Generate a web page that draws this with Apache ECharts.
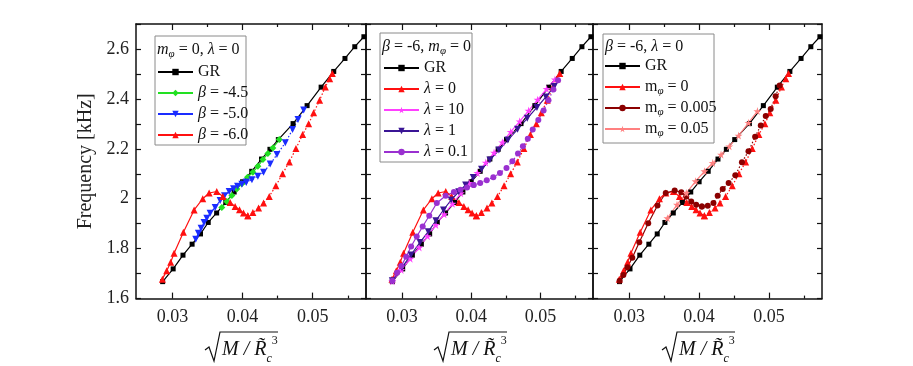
<!DOCTYPE html>
<html>
<head>
<meta charset="utf-8">
<title>Frequency vs compactness</title>
<script src="https://cdn.jsdelivr.net/npm/echarts@6/dist/echarts.min.js"></script>
<style>
  html, body { margin: 0; background: #fff; }
  #chart { width: 913px; height: 366px; }
</style>
</head>
<body>
<div id="chart"></div>
<script>
// ---- data: [sqrt(M/Rc^3), frequency kHz] ----
var grData = [[0.0286,1.668],[0.0301,1.719],[0.0315,1.774],[0.0328,1.818],[0.0340,1.859],[0.0351,1.905],[0.0363,1.943],[0.0376,1.985],[0.0388,2.027],[0.0400,2.068],[0.0413,2.110],[0.0427,2.159],[0.0439,2.198],[0.0451,2.237],[0.0472,2.301],[0.0492,2.373],[0.0512,2.447],[0.0530,2.510],[0.0546,2.562],[0.0560,2.609],[0.0573,2.649]];

// beta = -6 (same as lambda = 0, m_phi = 0): stable part and the dotted part after the minimum
var b60Solid = [[0.02856,1.678],[0.02918,1.712],[0.02975,1.746],[0.03023,1.782],[0.03156,1.866],[0.03309,1.955],[0.03432,2.000],[0.03523,2.023],[0.03632,2.029],[0.03718,2.009],[0.03823,1.985],[0.03894,1.969],[0.03956,1.956],[0.04013,1.943],[0.04075,1.932]];
var b60Dotted = [[0.04075,1.932],[0.04147,1.945],[0.04228,1.963],[0.04299,1.983],[0.04380,2.009],[0.04475,2.052],[0.04570,2.100],[0.04666,2.147],[0.04761,2.201],[0.04856,2.257],[0.04942,2.300],[0.05013,2.344],[0.05099,2.395],[0.05180,2.448],[0.05242,2.481],[0.05280,2.502]];

var b45Data = [[0.03704,1.965],[0.03775,1.989],[0.03847,2.013],[0.03918,2.039],[0.03990,2.060],[0.04070,2.086],[0.04147,2.106],[0.04218,2.130],[0.04290,2.157],[0.04361,2.181],[0.04432,2.203],[0.04523,2.237]];

var b50Solid = [[0.03332,1.838],[0.03370,1.862],[0.03409,1.882],[0.03451,1.905],[0.03490,1.922],[0.03537,1.942],[0.03609,1.965],[0.03680,1.993],[0.03742,2.012],[0.03809,2.029],[0.03871,2.040],[0.03928,2.050],[0.03990,2.058],[0.04052,2.066]];
var b50Dotted = [[0.04052,2.066],[0.04133,2.076],[0.04218,2.090],[0.04299,2.106],[0.04394,2.139],[0.04490,2.177],[0.04609,2.224],[0.04713,2.277],[0.04790,2.317],[0.04871,2.355]];

var l10Data = [[0.0286,1.670],[0.0299,1.715],[0.0312,1.760],[0.0325,1.805],[0.0337,1.850],[0.0349,1.895],[0.0361,1.938],[0.0373,1.980],[0.0385,2.022],[0.0397,2.063],[0.0409,2.103],[0.0421,2.145],[0.0433,2.185],[0.0445,2.226],[0.0457,2.268],[0.0470,2.310],[0.0483,2.353],[0.0496,2.397],[0.0509,2.440],[0.0521,2.478]];
var l1Data = [[0.0286,1.672],[0.0300,1.725],[0.0313,1.775],[0.0326,1.825],[0.0338,1.868],[0.0349,1.912],[0.0360,1.955],[0.0371,1.995],[0.0382,2.028],[0.0392,2.055],[0.0403,2.085],[0.0415,2.118],[0.0427,2.155],[0.0440,2.195],[0.0453,2.235],[0.0467,2.278],[0.0481,2.322],[0.0495,2.366],[0.0508,2.408],[0.0520,2.450]];
var l01Solid = [[0.02862,1.672],[0.02928,1.704],[0.02990,1.731],[0.03061,1.768],[0.03132,1.809],[0.03213,1.849],[0.03299,1.889],[0.03394,1.932],[0.03503,1.983],[0.03631,2.012],[0.03750,2.027],[0.03845,2.036],[0.03940,2.045],[0.04035,2.055]];
var l01Dotted = [[0.04035,2.055],[0.04130,2.063],[0.04225,2.074],[0.04320,2.086],[0.04415,2.103],[0.04510,2.123],[0.04595,2.150],[0.04676,2.181],[0.04747,2.210],[0.04818,2.240],[0.04889,2.277],[0.04970,2.315],[0.05046,2.353],[0.05117,2.395],[0.05188,2.438],[0.05255,2.475]];

var m005Solid = [[0.02862,1.672],[0.02915,1.695],[0.02972,1.726],[0.03043,1.764],[0.03143,1.826],[0.03271,1.902],[0.03404,1.973],[0.03522,2.023],[0.03650,2.033],[0.03745,2.026],[0.03816,2.009],[0.03887,1.989],[0.03958,1.976],[0.04039,1.969]];
var m005Dotted = [[0.04039,1.969],[0.04124,1.972],[0.04205,1.983],[0.04266,2.012],[0.04338,2.039],[0.04423,2.063],[0.04518,2.094],[0.04613,2.146],[0.04707,2.190],[0.04802,2.248],[0.04883,2.293],[0.04954,2.331],[0.05025,2.360],[0.05096,2.411],[0.05153,2.454]];
var m05Data = [[0.03546,1.922],[0.03683,1.976],[0.03816,2.023],[0.03949,2.070],[0.04077,2.110],[0.04195,2.143],[0.04314,2.177],[0.04432,2.210],[0.04565,2.253],[0.04707,2.304],[0.04835,2.351]];

var xMinor = [0.035, 0.045, 0.055];
var xLabels = [0.03, 0.04, 0.05];
var yTicks = [1.6, 1.7, 1.8, 1.9, 2.0, 2.1, 2.2, 2.3, 2.4, 2.5, 2.6, 2.7];
var yLabels = [1.6, 1.8, 2.0, 2.2, 2.4, 2.6];

var FONT = 'Liberation Serif, Times New Roman, serif';
var STAR = 'path://M50,0L61,35L98,35L68,57L79,91L50,70L21,91L32,57L2,35L39,35Z';
var DOWN = 'path://M0,0L10,0L5,9Z';

var panels = [
  {left: 136, width: 230},
  {left: 366, width: 227},
  {left: 593, width: 229}
];

var chart = echarts.init(document.getElementById('chart'));

var grids = [], xAxes = [], yAxes = [];
panels.forEach(function (p, g) {
  grids.push({left: p.left, top: 24, width: p.width, height: 274.6});

  // major ticks (bottom one carries the labels), then minor ticks
  ['bottom', 'top'].forEach(function (pos) {
    xAxes.push({
      type: 'value', gridIndex: g, min: 0.0248, max: 0.0576, position: pos,
      splitLine: {show: false},
      axisLine: {onZero: false, lineStyle: {color: '#111', width: 1.5}},
      axisTick: {inside: true, length: 6, customValues: xLabels, lineStyle: {color: '#111', width: 1.2}},
      axisLabel: {
        show: pos === 'bottom', customValues: xLabels, margin: 10,
        fontFamily: FONT, fontSize: 18, color: '#222',
        formatter: function (v) { return v.toFixed(2); }
      }
    });
  });
  ['bottom', 'top'].forEach(function (pos) {
    xAxes.push({
      type: 'value', gridIndex: g, min: 0.0248, max: 0.0576, position: pos,
      splitLine: {show: false}, axisLine: {show: false, onZero: false}, axisLabel: {show: false},
      axisTick: {inside: true, length: 3, customValues: xMinor, lineStyle: {color: '#111', width: 1.2}}
    });
  });

  ['left', 'right'].forEach(function (pos) {
    var ax = {
      type: 'value', gridIndex: g, min: 1.6, max: 2.7, position: pos,
      splitLine: {show: false},
      axisLine: {onZero: false, lineStyle: {color: '#111', width: 1.5}},
      axisTick: {inside: true, length: 5, customValues: yTicks, lineStyle: {color: '#111', width: 1.2}},
      axisLabel: {show: false}
    };
    if (g === 0 && pos === 'left') {
      ax.axisLabel = {show: true, customValues: yLabels, margin: 7, fontFamily: FONT, fontSize: 18, color: '#222',
        formatter: function (v) { return String(+v.toFixed(1)); }};
      ax.name = 'Frequency [kHz]';
      ax.nameLocation = 'middle';
      ax.nameGap = 40;
      ax.nameTextStyle = {fontFamily: FONT, fontSize: 20, color: '#222'};
    }
    yAxes.push(ax);
  });
});

function line(name, data, g, color, symbol, size, dotted) {
  return {
    name: name, type: 'line', data: data,
    xAxisIndex: 4 * g, yAxisIndex: 2 * g,
    symbol: symbol, symbolSize: size,
    itemStyle: {color: color},
    lineStyle: {color: color, width: 1.2, type: dotted ? [1.5, 2] : 'solid'},
    animation: false
  };
}

var RED = '#ff1010';
var series = [
  line('GR', grData, 0, '#000', 'rect', 5),
  line('β = -4.5', b45Data, 0, '#22e022', 'diamond', 7),
  line('β = -5.0', b50Solid, 0, '#1a2cff', DOWN, 7),
  line('β = -5.0', b50Dotted, 0, '#1a2cff', DOWN, 7, true),
  line('β = -6.0', b60Solid, 0, RED, 'triangle', 7),
  line('β = -6.0', b60Dotted, 0, RED, 'triangle', 7, true),

  line('GR', grData, 1, '#000', 'rect', 5),
  line('λ = 0', b60Solid, 1, RED, 'triangle', 7),
  line('λ = 0', b60Dotted, 1, RED, 'triangle', 7, true),
  line('λ = 10', l10Data, 1, '#ff40ff', STAR, 8),
  line('λ = 1', l1Data, 1, '#3a1595', DOWN, 7),
  line('λ = 0.1', l01Solid, 1, '#9a30d0', 'circle', 6),
  line('λ = 0.1', l01Dotted, 1, '#9a30d0', 'circle', 6, true),

  line('GR', grData, 2, '#000', 'rect', 5),
  line('mφ = 0', b60Solid, 2, RED, 'triangle', 7),
  line('mφ = 0', b60Dotted, 2, RED, 'triangle', 7, true),
  line('mφ = 0.005', m005Solid, 2, '#8b0000', 'circle', 6),
  line('mφ = 0.005', m005Dotted, 2, '#8b0000', 'circle', 6, true),
  line('mφ = 0.05', m05Data, 2, '#ff8080', STAR, 8)
];

var legendRich = {
  i: {fontFamily: FONT, fontStyle: 'italic', fontSize: 16, lineHeight: 20},
  s: {fontFamily: FONT, fontStyle: 'italic', fontSize: 11, lineHeight: 10, verticalAlign: 'bottom'}
};
var legendText = {
  'β = -4.5': '{i|β} = -4.5', 'β = -5.0': '{i|β} = -5.0', 'β = -6.0': '{i|β} = -6.0',
  'λ = 0': '{i|λ} = 0', 'λ = 10': '{i|λ} = 10', 'λ = 1': '{i|λ} = 1', 'λ = 0.1': '{i|λ} = 0.1',
  'mφ = 0': 'm{s|φ} = 0', 'mφ = 0.005': 'm{s|φ} = 0.005', 'mφ = 0.05': 'm{s|φ} = 0.05'
};
function legend(names, left, top) {
  return {
    data: names, orient: 'vertical', left: left, top: top, padding: 0,
    itemWidth: 35, itemHeight: 8, itemGap: 1,
    textStyle: {fontFamily: FONT, fontSize: 16, color: '#111', lineHeight: 20, rich: legendRich},
    formatter: function (n) { return legendText[n] || n; },
    selectedMode: false
  };
}

var titleRich = {
  i: {fontFamily: FONT, fontStyle: 'italic', fontSize: 16, lineHeight: 20, fill: '#111'},
  n: {fontFamily: FONT, fontSize: 16, lineHeight: 20, fill: '#111'},
  s: {fontFamily: FONT, fontStyle: 'italic', fontSize: 11, lineHeight: 10, verticalAlign: 'bottom', fill: '#111'}
};
function box(x1, y1, x2, y2, title, ty) {
  return [
    {type: 'rect', z: 3, shape: {x: x1, y: y1, width: x2 - x1, height: y2 - y1},
      style: {fill: '#fff', stroke: '#8a8a8a', lineWidth: 1}},
    {type: 'text', z: 5, x: x1 + 2, y: ty, style: {text: title, rich: titleRich, verticalAlign: 'middle', font: '16px ' + FONT}}
  ];
}

// x axis title: sqrt(M / R~_c^3), radical drawn as a polyline
function sqrtLabel(cx) {
  var y0 = 332;
  return [
    {type: 'polyline', shape: {points: [[cx - 46, 350], [cx - 42, 347], [cx - 37, 361], [cx - 31, y0], [cx + 27, y0]]},
      style: {stroke: '#111', lineWidth: 1.2, fill: null}},
    {type: 'text', x: cx - 29, y: 350, style: {
      text: '{m|M / R\u0303}{c|c}{t|3}', verticalAlign: 'middle',
      rich: {
        m: {fontFamily: FONT, fontStyle: 'italic', fontSize: 20, lineHeight: 30, fill: '#111'},
        c: {fontFamily: FONT, fontStyle: 'italic', fontSize: 12, lineHeight: 13, verticalAlign: 'bottom', fill: '#111'},
        t: {fontFamily: FONT, fontSize: 12, lineHeight: 13, verticalAlign: 'top', fill: '#111'}
      }}}
  ];
}

var graphics = []
  .concat(box(155, 36, 246, 145, '{i|m}{s|φ}{n| = 0, }{i|λ}{n| = 0}', 50))
  .concat(box(380, 33, 472, 162, '{i|β}{n| = -6, }{i|m}{s|φ}{n| = 0}', 47))
  .concat(box(603, 34, 714, 143, '{i|β}{n| = -6, }{i|λ}{n| = 0}', 47))
  .concat(sqrtLabel(251)).concat(sqrtLabel(480)).concat(sqrtLabel(708));

chart.setOption({
  backgroundColor: '#fff',
  animation: false,
  grid: grids,
  xAxis: xAxes,
  yAxis: yAxes,
  legend: [
    legend(['GR', 'β = -4.5', 'β = -5.0', 'β = -6.0'], 157, 62),
    legend(['GR', 'λ = 0', 'λ = 10', 'λ = 1', 'λ = 0.1'], 383, 58),
    legend(['GR', 'mφ = 0', 'mφ = 0.005', 'mφ = 0.05'], 604, 56)
  ],
  graphic: graphics,
  series: series
});
</script>
</body>
</html>
